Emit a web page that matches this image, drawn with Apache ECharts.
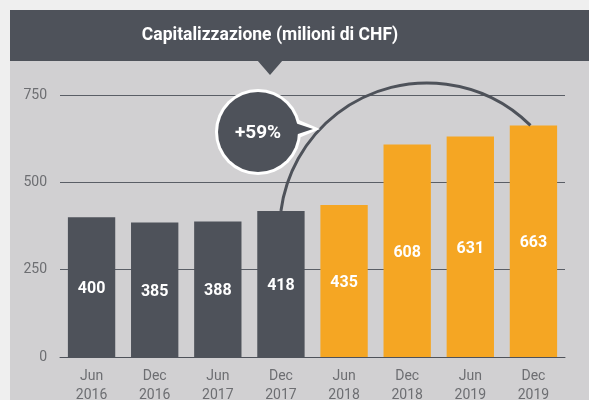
<!DOCTYPE html>
<html><head><meta charset="utf-8">
<script src="https://cdn.jsdelivr.net/npm/echarts@6/dist/echarts.min.js"></script>
<style>html,body{margin:0;padding:0;background:#efefef;}#c{width:589px;height:400px;}</style>
</head><body><div id="c"></div>
<script>
const categories = ['Jun\n2016','Dec\n2016','Jun\n2017','Dec\n2017','Jun\n2018','Dec\n2018','Jun\n2019','Dec\n2019'];
const values = [400, 385, 388, 418, 435, 608, 631, 663];
const yTicks = [0, 250, 500, 750];
const titleText = 'Capitalizzazione (milioni di CHF)';
const growthText = '+59%';
const arcFrom = 3, arcTo = 7;

const DARK = '#4e525a', ORANGE = '#f5a623', PANEL = '#d1d0d2';
const chart = echarts.init(document.getElementById('c'), null, {renderer:'canvas'});
const FONT = 'Roboto, "Liberation Sans", sans-serif';

chart.setOption({
  backgroundColor: '#efefef',
  animation: false,
  grid: {left: 60, right: 24, top: 95, bottom: 43, containLabel: false, outerBoundsMode: 'none'},
  xAxis: {
    type: 'category', data: categories,
    axisLine: {lineStyle: {color: DARK, width: 1}},
    axisTick: {show: false},
    axisLabel: {color: '#6d6e72', fontSize: 14, fontFamily: FONT, lineHeight: 19, margin: 10}
  },
  yAxis: {
    type: 'value', min: yTicks[0], max: yTicks[yTicks.length-1], interval: 250,
    axisLine: {show: false}, axisTick: {show: false},
    axisLabel: {color: '#6d6e72', fontSize: 14, fontFamily: FONT, margin: 13},
    splitLine: {lineStyle: {color: '#5a5e66', width: 1}}
  },
  series: [{
    type: 'bar', barWidth: '75%',
    data: values.map((v, i) => ({value: v, itemStyle: {color: i >= 4 ? ORANGE : DARK}})),
    label: {show: true, position: 'inside', offset: [0, 2], color: '#fff', fontWeight: 'bold', fontSize: 16, fontFamily: FONT},
    z: 3
  }]
});

function draw() {
  const p0 = chart.convertToPixel({xAxisIndex:0, yAxisIndex:0}, [arcFrom, values[arcFrom]]);
  const p2 = chart.convertToPixel({xAxisIndex:0, yAxisIndex:0}, [arcTo, values[arcTo]]);
  const top750 = chart.convertToPixel({yAxisIndex:0}, 750);
  const p1 = [p0[0] + 0.59 * (p2[0] - p0[0]), top750 - 12];
  const ax=p0[0], ay=p0[1], bx=p1[0], by=p1[1], cx_=p2[0]-3, cy_=p2[1];
  const d = 2*(ax*(by-cy_)+bx*(cy_-ay)+cx_*(ay-by));
  const ux = ((ax*ax+ay*ay)*(by-cy_)+(bx*bx+by*by)*(cy_-ay)+(cx_*cx_+cy_*cy_)*(ay-by))/d;
  const uy = ((ax*ax+ay*ay)*(cx_-bx)+(bx*bx+by*by)*(ax-cx_)+(cx_*cx_+cy_*cy_)*(bx-ax))/d;
  const r = Math.hypot(ax-ux, ay-uy);
  const a0 = Math.atan2(ay-uy, ax-ux), a1 = Math.atan2(cy_-uy, cx_-ux);

  chart.setOption({
    graphic: [
      {type:'rect', shape:{x:10,y:10,width:600,height:400}, style:{fill:PANEL}, z:-10, silent:true},
      {type:'rect', shape:{x:10,y:10,width:600,height:51}, style:{fill:DARK}, z:-9, silent:true},
      {type:'polygon', shape:{points:[[257,60],[283,60],[270,75]]}, style:{fill:DARK}, z:-9, silent:true},
      {type:'text', x:270, y:36, style:{text:titleText, fill:'#fff', font:'bold 17.5px '+FONT, align:'center', verticalAlign:'middle'}, z:10},
      {type:'arc', shape:{cx:ux, cy:uy, r:r, startAngle:a0, endAngle:a1, clockwise:true}, style:{stroke:DARK, lineWidth:3, fill:null}, z:5},
      {type:'circle', shape:{cx:258, cy:132, r:43}, style:{fill:'#fff'}, z:6},
      {type:'polygon', shape:{points:[[294,118],[320,129],[294,140]]}, style:{fill:'#fff'}, z:6},
      {type:'circle', shape:{cx:258, cy:132, r:40}, style:{fill:DARK}, z:7},
      {type:'polygon', shape:{points:[[292,122],[313,129],[292,136]]}, style:{fill:DARK}, z:7},
      {type:'text', x:258, y:133, style:{text:growthText, fill:'#fff', font:'bold 19px '+FONT, align:'center', verticalAlign:'middle'}, z:8}
    ]
  });
}
draw();
</script></body></html>
